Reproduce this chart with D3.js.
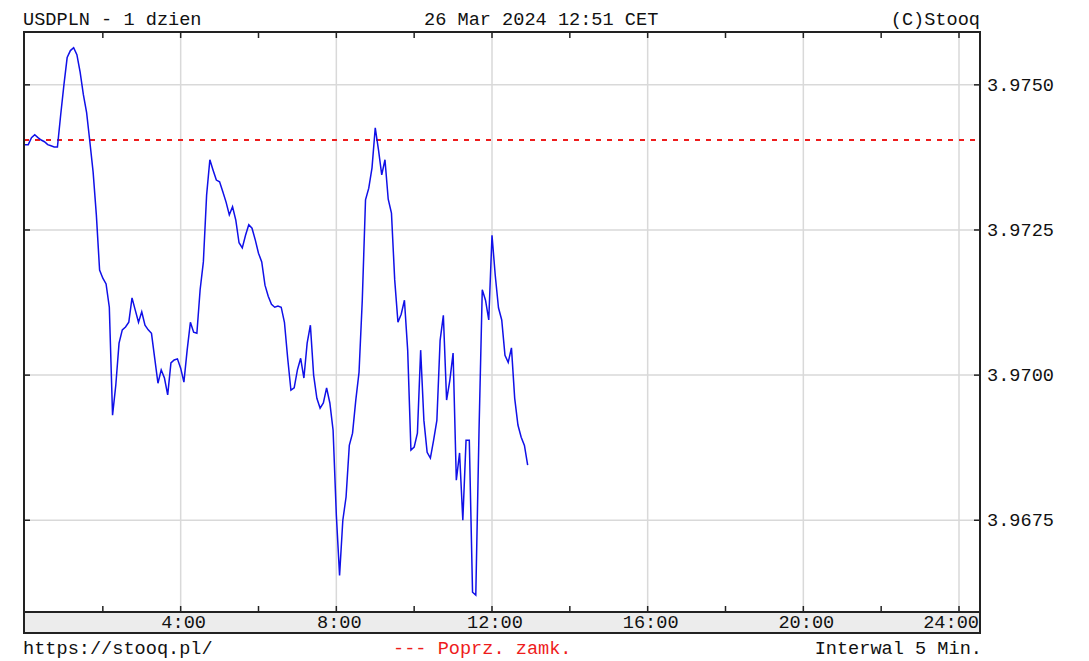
<!DOCTYPE html>
<html>
<head>
<meta charset="utf-8">
<script src="https://cdn.jsdelivr.net/npm/d3@7"></script>
<style>
  html, body { margin: 0; padding: 0; background: #ffffff; }
  svg text { font-family: "Liberation Mono", "DejaVu Sans Mono", monospace; font-size: 18.6px; fill: #111; }
</style>
</head>
<body>
<svg id="chart" width="1089" height="661"></svg>
<script>
// ----------- DATA ------------
// USDPLN quotes, one every 5 minutes starting at 0:00
const INTERVAL_MIN = 5;
const prices = [
  3.97397, 3.97397, 3.97409, 3.97414, 3.97409, 3.97405, 3.97402, 3.97397, 3.97395, 3.97393,
  3.97393, 3.97448, 3.97500, 3.97547, 3.97559, 3.97564, 3.97552, 3.97522, 3.97483, 3.97452,
  3.97402, 3.97350, 3.97276, 3.97181, 3.97167, 3.97157, 3.97117, 3.96931, 3.96983, 3.97055,
  3.97078, 3.97083, 3.97091, 3.97133, 3.97112, 3.97091, 3.97109, 3.97086, 3.97078, 3.97072,
  3.97029, 3.96986, 3.97009, 3.96995, 3.96966, 3.97021, 3.97026, 3.97028, 3.97012, 3.96988,
  3.97043, 3.97091, 3.97074, 3.97072, 3.97147, 3.97195, 3.97310, 3.97371, 3.97353, 3.97336,
  3.97333, 3.97316, 3.97298, 3.97276, 3.97290, 3.97267, 3.97228, 3.97219, 3.97241, 3.97259,
  3.97253, 3.97233, 3.97210, 3.97195, 3.97155, 3.97136, 3.97122, 3.97117, 3.97119, 3.97117,
  3.97091, 3.97029, 3.96974, 3.96978, 3.97009, 3.97029, 3.96995, 3.97055, 3.97086, 3.97000,
  3.96960, 3.96943, 3.96952, 3.96978, 3.96952, 3.96905, 3.96759, 3.96655, 3.96750, 3.96790,
  3.96879, 3.96900, 3.96957, 3.97005, 3.97129, 3.97302, 3.97322, 3.97357, 3.97426, 3.97388,
  3.97345, 3.97371, 3.97303, 3.97279, 3.97164, 3.97091, 3.97105, 3.97129, 3.97043, 3.96871,
  3.96876, 3.96900, 3.97043, 3.96922, 3.96867, 3.96857, 3.96888, 3.96922, 3.97060, 3.97103,
  3.96957, 3.96991, 3.97038, 3.96819, 3.96866, 3.96750, 3.96888, 3.96888, 3.96626, 3.96621,
  3.96905, 3.97147, 3.97129, 3.97095, 3.97241, 3.97172, 3.97116, 3.97095, 3.97034, 3.97022,
  3.97047, 3.96960, 3.96914, 3.96893, 3.96879, 3.96845
];
// previous close (red dashed line)
const prevClose = 3.97405;

// axis ticks
const yTicks = [3.9675, 3.9700, 3.9725, 3.9750];
const xGridHours = [4, 8, 12, 16, 20, 24];
const xMinorHours = [2, 4, 6, 8, 10, 12, 14, 16, 18, 20, 22, 24];
const xTickLabels = ["4:00", "8:00", "12:00", "16:00", "20:00", "24:00"];

// texts
const titleLeft = "USDPLN - 1 dzien";
const titleCenter = "26 Mar 2024 12:51 CET";
const titleRight = "(C)Stooq";
const footLeft = "https://stooq.pl/";
const footCenter = "--- Poprz. zamk.";
const footRight = "Interwal 5 Min.";

// ----------- LAYOUT ------------
const plot = { left: 24, right: 980, top: 32, bottom: 612 };
const bandBottom = 633;

const svg = d3.select("#chart");

const x = d3.scaleLinear()
  .domain([0, 24 * 60])
  .range([25, 959]);

const y = d3.scaleLinear()
  .domain([3.96592, 3.97591])
  .range([plot.bottom, plot.top]);

// ----------- GRID ------------
const grid = svg.append("g");
grid.selectAll(".hgrid")
  .data(yTicks)
  .join("line")
  .attr("x1", plot.left).attr("x2", plot.right)
  .attr("y1", d => y(d)).attr("y2", d => y(d))
  .attr("stroke", "#d9d9d9")
  .attr("stroke-width", 1.5);

grid.selectAll(".vgrid")
  .data(xGridHours)
  .join("line")
  .attr("x1", d => x(d * 60)).attr("x2", d => x(d * 60))
  .attr("y1", plot.top).attr("y2", plot.bottom)
  .attr("stroke", "#d9d9d9")
  .attr("stroke-width", 1.5);

// ----------- PREVIOUS CLOSE ------------
svg.append("line")
  .attr("x1", plot.left).attr("x2", plot.right)
  .attr("y1", y(prevClose)).attr("y2", y(prevClose))
  .attr("stroke", "#ee1c1c")
  .attr("stroke-width", 2)
  .attr("stroke-dasharray", "5,6");

// ----------- PRICE LINE ------------
const line = d3.line()
  .x((d, i) => x(i * INTERVAL_MIN))
  .y(d => y(d));

svg.append("path")
  .datum(prices)
  .attr("d", line)
  .attr("fill", "none")
  .attr("stroke", "#1010e8")
  .attr("stroke-width", 1.5)
  .attr("stroke-linejoin", "miter");

// ----------- FRAME + AXIS BAND ------------
svg.append("rect")
  .attr("x", plot.left).attr("y", plot.bottom)
  .attr("width", plot.right - plot.left)
  .attr("height", bandBottom - plot.bottom)
  .attr("fill", "#ececec")
  .attr("stroke", "#222")
  .attr("stroke-width", 2);

svg.append("rect")
  .attr("x", plot.left).attr("y", plot.top)
  .attr("width", plot.right - plot.left)
  .attr("height", plot.bottom - plot.top)
  .attr("fill", "none")
  .attr("stroke", "#222")
  .attr("stroke-width", 2);

// x ticks top and bottom
const ticks = svg.append("g").attr("stroke", "#222").attr("stroke-width", 1.5);
ticks.selectAll(".xt-top")
  .data(xMinorHours)
  .join("line")
  .attr("x1", d => x(d * 60)).attr("x2", d => x(d * 60))
  .attr("y1", plot.top).attr("y2", plot.top + 6);
ticks.selectAll(".xt-bot")
  .data(xMinorHours)
  .join("line")
  .attr("x1", d => x(d * 60)).attr("x2", d => x(d * 60))
  .attr("y1", plot.bottom).attr("y2", plot.bottom - 6);

// y ticks left and right
ticks.selectAll(".yt-left")
  .data(yTicks)
  .join("line")
  .attr("x1", plot.left).attr("x2", plot.left + 6)
  .attr("y1", d => y(d)).attr("y2", d => y(d));
ticks.selectAll(".yt-right")
  .data(yTicks)
  .join("line")
  .attr("x1", plot.right - 6).attr("x2", plot.right)
  .attr("y1", d => y(d)).attr("y2", d => y(d));

// ----------- LABELS ------------
svg.selectAll(".ylab")
  .data(yTicks)
  .join("text")
  .attr("x", plot.right + 7)
  .attr("y", d => y(d) + 6)
  .text(d => d.toFixed(4));

svg.selectAll(".xlab")
  .data(xGridHours)
  .join("text")
  .attr("x", (d, i) => i === xGridHours.length - 1 ? plot.right - 1 : x(d * 60) + 3)
  .attr("y", 628)
  .attr("text-anchor", (d, i) => i === xGridHours.length - 1 ? "end" : "middle")
  .text((d, i) => xTickLabels[i]);

svg.append("text").attr("x", plot.left - 1).attr("y", 25).text(titleLeft);
svg.append("text").attr("x", 424).attr("y", 25).text(titleCenter);
svg.append("text").attr("x", plot.right).attr("y", 25).attr("text-anchor", "end").text(titleRight);

svg.append("text").attr("x", plot.left - 1).attr("y", 654).text(footLeft);
svg.append("text").attr("x", 393).attr("y", 654).style("fill", "#ee1c1c").text(footCenter);
svg.append("text").attr("x", plot.right + 2).attr("y", 654).attr("text-anchor", "end").text(footRight);
</script>
</body>
</html>
